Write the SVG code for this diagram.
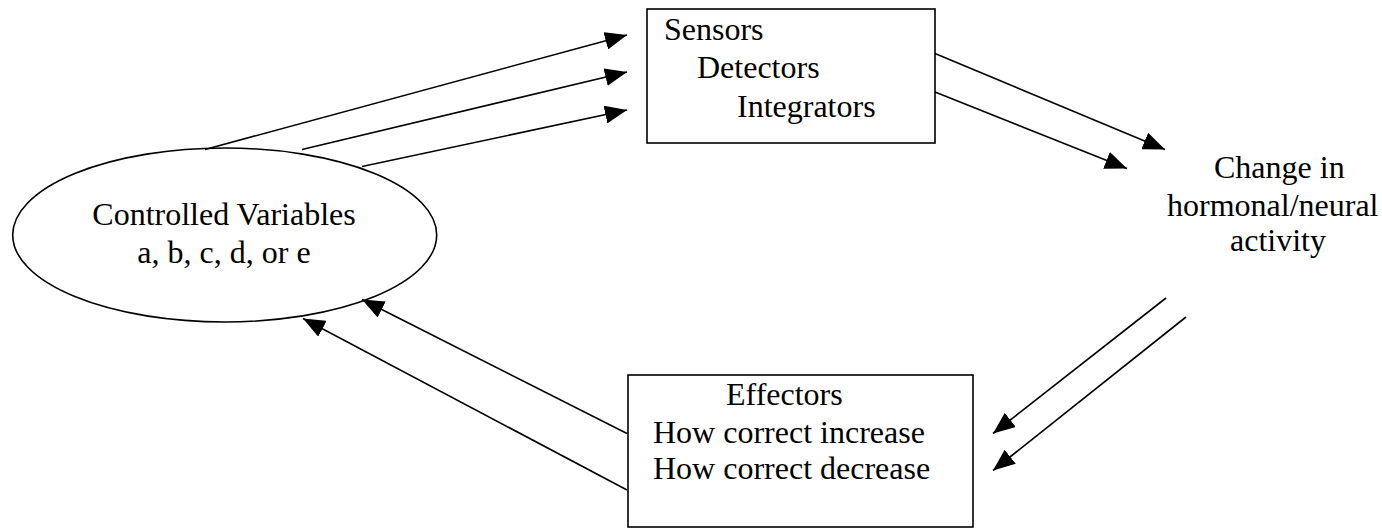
<svg xmlns="http://www.w3.org/2000/svg" width="1382" height="528" viewBox="0 0 1382 528">
<style>
.t{font-family:"Liberation Serif","Times New Roman",serif;font-size:32px;fill:#000}
.n{fill:#fff;stroke:#000;stroke-width:1.6}
.c{stroke:#000;stroke-width:1.6;fill:none}
</style>
<defs>
<marker id="ah" viewBox="0 0 22 18" refX="22" refY="9" markerWidth="22" markerHeight="18" markerUnits="userSpaceOnUse" orient="auto">
<path d="M0,0 L22,9 L0,18 z" fill="#000"/>
</marker>
</defs>
<rect width="1382" height="528" fill="#fff"/>
<g id="controlled">
<ellipse class="n" cx="224.7" cy="235" rx="212" ry="87"/>
<text class="t" x="224" y="225" text-anchor="middle">Controlled Variables</text>
<text class="t" x="224" y="263" text-anchor="middle">a, b, c, d, or e</text>
</g>
<g id="sensors">
<rect class="n" x="647" y="9" width="288" height="134"/>
<text class="t" x="664" y="40">Sensors</text>
<text class="t" x="697" y="78">Detectors</text>
<text class="t" x="737" y="117">Integrators</text>
</g>
<g id="change">
<text class="t" x="1214" y="178">Change in</text>
<text class="t" x="1167" y="216">hormonal/neural</text>
<text class="t" x="1230" y="251">activity</text>
</g>
<g id="effectors">
<rect class="n" x="628" y="375" width="345" height="152"/>
<text class="t" x="726" y="405">Effectors</text>
<text class="t" x="653" y="443">How correct increase</text>
<text class="t" x="653" y="479">How correct decrease</text>
</g>
<g id="connectors">
<line class="c" x1="205" y1="149.5" x2="627" y2="35" marker-end="url(#ah)"/>
<line class="c" x1="302" y1="149.5" x2="627" y2="72" marker-end="url(#ah)"/>
<line class="c" x1="362" y1="166.5" x2="627" y2="110" marker-end="url(#ah)"/>
<line class="c" x1="935" y1="53.5" x2="1165" y2="149.5" marker-end="url(#ah)"/>
<line class="c" x1="935" y1="92" x2="1127" y2="168.5" marker-end="url(#ah)"/>
<line class="c" x1="1166" y1="298" x2="993" y2="433.5" marker-end="url(#ah)"/>
<line class="c" x1="1186" y1="317" x2="993" y2="470.5" marker-end="url(#ah)"/>
<line class="c" x1="627" y1="433.5" x2="362" y2="299.5" marker-end="url(#ah)"/>
<line class="c" x1="627" y1="490" x2="303" y2="318.5" marker-end="url(#ah)"/>
</g>
</svg>
